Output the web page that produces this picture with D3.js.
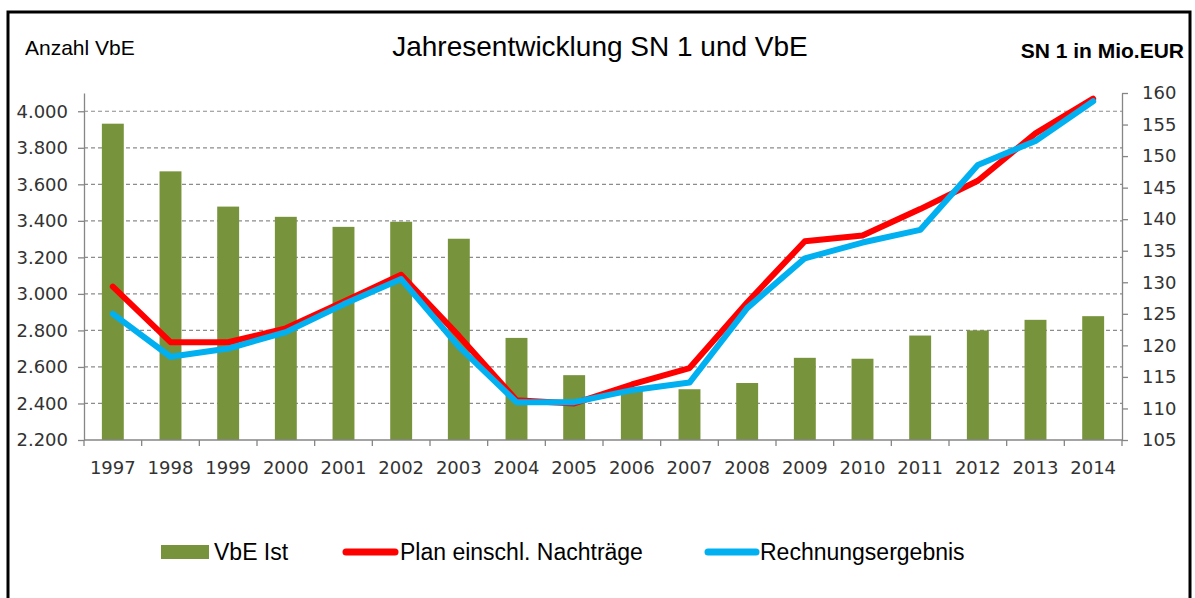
<!DOCTYPE html>
<html>
<head>
<meta charset="utf-8">
<script src="https://cdn.jsdelivr.net/npm/d3@7"></script>
<style>
  body { margin: 0; background: #fff; }
  svg { display: block; }
</style>
</head>
<body>
<svg width="1195" height="598"></svg>
<script>
const width = 1195, height = 598;
const svg = d3.select("svg");

// data
const years = ["1997", "1998", "1999", "2000", "2001", "2002", "2003", "2004", "2005",
               "2006", "2007", "2008", "2009", "2010", "2011", "2012", "2013", "2014"];
const vbeIst = [3932, 3671, 3478, 3422, 3367, 3395, 3302, 2759, 2555,
                2490, 2478, 2512, 2650, 2645, 2772, 2800, 2858, 2878];
const planNachtraege = [129.3, 120.5, 120.5, 122.7, 126.9, 131.2, 121.5, 111.3, 110.8,
                        113.8, 116.4, 126.8, 136.5, 137.4, 141.6, 146.1, 153.6, 159.1];
const rechnungsergebnis = [125.0, 118.2, 119.5, 122.1, 126.5, 130.5, 119.8, 111.0, 111.0,
                           112.9, 114.1, 125.9, 133.8, 136.3, 138.3, 148.6, 152.4, 158.7];
const leftTicks = [2200, 2400, 2600, 2800, 3000, 3200, 3400, 3600, 3800, 4000];
const rightTicks = [105, 110, 115, 120, 125, 130, 135, 140, 145, 150, 155, 160];

const plot = { left: 84, right: 1122, top: 93, bottom: 440 };
const labelFont = "'DejaVu Sans', sans-serif";
const narrowFont = "'Liberation Sans Narrow', 'Arial Narrow', sans-serif";

// scales
const xScale = d3.scaleBand()
    .domain(years)
    .range([plot.left, plot.right])
    .paddingInner(0.62)
    .paddingOuter(0.31);

const yLeft = d3.scaleLinear()
    .domain([2200, 4100])
    .range([plot.bottom, plot.top]);

const yRight = d3.scaleLinear()
    .domain([105, 160])
    .range([plot.bottom, plot.top]);

// frame
svg.append("rect")
    .attr("x", 8).attr("y", 12)
    .attr("width", 1182).attr("height", 620)
    .attr("fill", "none")
    .attr("stroke", "#000")
    .attr("stroke-width", 3);

// gridlines (dashed, left axis)
svg.append("g")
    .selectAll("line")
    .data(leftTicks.slice(1))
    .enter().append("line")
    .attr("x1", plot.left).attr("x2", plot.right)
    .attr("y1", d => yLeft(d)).attr("y2", d => yLeft(d))
    .attr("stroke", "#8c8c8c")
    .attr("stroke-width", 1.2)
    .attr("stroke-dasharray", "4,3");

// bars
svg.append("g")
    .selectAll("rect")
    .data(years)
    .enter().append("rect")
    .attr("x", d => xScale(d))
    .attr("y", (d, i) => yLeft(vbeIst[i]))
    .attr("width", xScale.bandwidth())
    .attr("height", (d, i) => plot.bottom - yLeft(vbeIst[i]))
    .attr("fill", "#77933c");

// axes
const axisColor = "#868686";

const leftAxis = svg.append("g")
    .attr("transform", `translate(${plot.left},0)`)
    .call(d3.axisLeft(yLeft).tickValues(leftTicks).tickSize(6).tickSizeOuter(0)
        .tickFormat(d => d3.format(",")(d).replace(",", ".")));

const rightAxis = svg.append("g")
    .attr("transform", `translate(${plot.right},0)`)
    .call(d3.axisRight(yRight).tickValues(rightTicks).tickSize(6).tickSizeOuter(0));

[leftAxis, rightAxis].forEach(ax => {
    ax.select(".domain").attr("stroke", axisColor).attr("stroke-width", 1.3);
    ax.selectAll(".tick line").attr("stroke", axisColor).attr("stroke-width", 1.3);
    ax.selectAll("text")
        .attr("fill", "#333")
        .style("font-family", labelFont)
        .style("font-size", "18px");
});
leftAxis.selectAll("text").attr("x", -16);
rightAxis.selectAll("text").attr("x", 20);

// x axis with ticks between categories
const xAxis = svg.append("g");
xAxis.append("line")
    .attr("x1", plot.left).attr("x2", plot.right)
    .attr("y1", plot.bottom).attr("y2", plot.bottom)
    .attr("stroke", axisColor).attr("stroke-width", 1.3);
xAxis.selectAll(".xtick")
    .data(d3.range(years.length + 1))
    .enter().append("line")
    .attr("class", "xtick")
    .attr("x1", i => plot.left + i * xScale.step())
    .attr("x2", i => plot.left + i * xScale.step())
    .attr("y1", plot.bottom).attr("y2", plot.bottom + 6)
    .attr("stroke", axisColor).attr("stroke-width", 1.3);
xAxis.selectAll(".xlabel")
    .data(years)
    .enter().append("text")
    .attr("class", "xlabel")
    .attr("x", d => xScale(d) + xScale.bandwidth() / 2)
    .attr("y", 474)
    .attr("text-anchor", "middle")
    .attr("fill", "#333")
    .style("font-family", labelFont)
    .style("font-size", "18px")
    .text(d => d);

// lines
const cx = d => xScale(d) + xScale.bandwidth() / 2;
const lineGen = vals => d3.line()
    .x((d, i) => cx(years[i]))
    .y((d, i) => yRight(vals[i]))(vals);

svg.append("path")
    .attr("d", lineGen(planNachtraege))
    .attr("fill", "none")
    .attr("stroke", "#ff0000")
    .attr("stroke-width", 6)
    .attr("stroke-linejoin", "round")
    .attr("stroke-linecap", "round");

svg.append("path")
    .attr("d", lineGen(rechnungsergebnis))
    .attr("fill", "none")
    .attr("stroke", "#00b0f0")
    .attr("stroke-width", 6)
    .attr("stroke-linejoin", "round")
    .attr("stroke-linecap", "round");

// titles
svg.append("text")
    .attr("x", 600).attr("y", 56)
    .attr("text-anchor", "middle")
    .style("font-family", narrowFont)
    .style("font-size", "28px")
    .text("Jahresentwicklung SN 1 und VbE");

svg.append("text")
    .attr("x", 25).attr("y", 55)
    .style("font-family", narrowFont)
    .style("font-size", "21px")
    .text("Anzahl VbE");

svg.append("text")
    .attr("x", 1184).attr("y", 58)
    .attr("text-anchor", "end")
    .style("font-family", narrowFont)
    .style("font-size", "21px")
    .style("font-weight", "bold")
    .text("SN 1 in Mio.EUR");

// legend
const legend = svg.append("g").style("font-family", narrowFont).style("font-size", "23px");
legend.append("rect")
    .attr("x", 161).attr("y", 545).attr("width", 48).attr("height", 14)
    .attr("fill", "#77933c");
legend.append("text").attr("x", 214).attr("y", 560).text("VbE Ist");
legend.append("line")
    .attr("x1", 346).attr("x2", 395).attr("y1", 552).attr("y2", 552)
    .attr("stroke", "#ff0000").attr("stroke-width", 7).attr("stroke-linecap", "round");
legend.append("text").attr("x", 400).attr("y", 560).text("Plan einschl. Nachträge");
legend.append("line")
    .attr("x1", 708).attr("x2", 756).attr("y1", 552).attr("y2", 552)
    .attr("stroke", "#00b0f0").attr("stroke-width", 7).attr("stroke-linecap", "round");
legend.append("text").attr("x", 760).attr("y", 560).text("Rechnungsergebnis");
</script>
</body>
</html>
